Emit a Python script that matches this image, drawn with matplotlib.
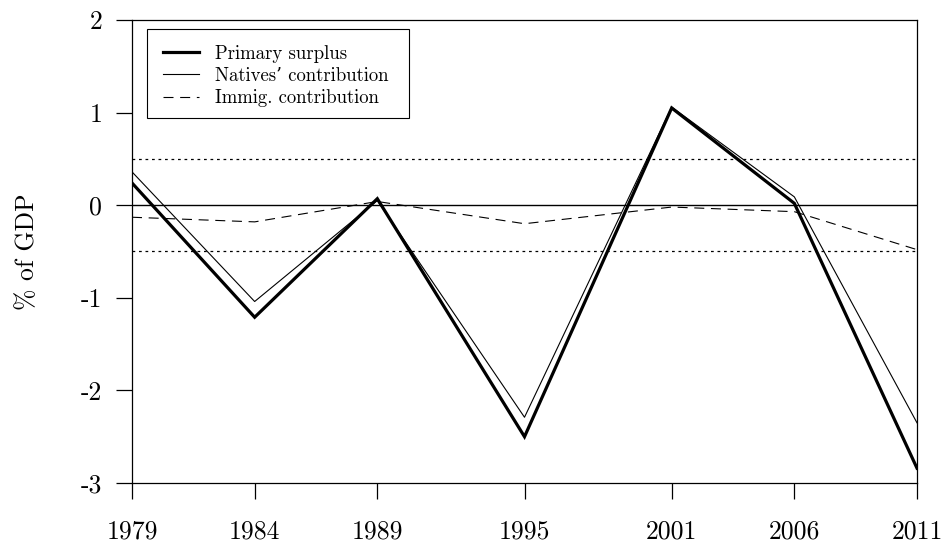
import matplotlib
matplotlib.use("Agg")
import matplotlib.pyplot as plt
from matplotlib.patches import Rectangle

plt.rcParams["font.family"] = ["cmr10", "DejaVu Serif"]
plt.rcParams["axes.unicode_minus"] = False

YEARS = [1979, 1984, 1989, 1995, 2001, 2006, 2011]
PRIMARY_SURPLUS = [0.24, -1.21, 0.07, -2.50, 1.05, 0.02, -2.84]
NATIVES = [0.36, -1.04, 0.05, -2.29, 1.06, 0.09, -2.35]
IMMIGRANTS = [-0.13, -0.18, 0.04, -0.20, -0.02, -0.07, -0.48]
Y_TICKS = [-3, -2, -1, 0, 1, 2]
BANDS = [-0.5, 0.5]

W, H = 942, 543
fig = plt.figure(figsize=(W / 100, H / 100), dpi=100)
ax = fig.add_axes([132 / W, 1 - 483 / H, (917 - 132) / W, (483 - 20) / H])

ax.axhline(0, color="black", lw=1.0, zorder=1)
for b in BANDS:
    ax.axhline(b, color="black", lw=0.9, linestyle=(0, (2.2, 3.0)), zorder=1)

ax.plot(YEARS, PRIMARY_SURPLUS, color="black", lw=2.3, label="Primary surplus",
        solid_joinstyle="miter", zorder=3)
ax.plot(YEARS, NATIVES, color="black", lw=0.8, label="Natives\u2019 contribution", zorder=3)
ax.plot(YEARS, IMMIGRANTS, color="black", lw=0.8, linestyle=(0, (9, 6)),
        label="Immig. contribution", zorder=3)

ax.set_xlim(YEARS[0], YEARS[-1])
ax.set_ylim(Y_TICKS[0], Y_TICKS[-1])
ax.set_xticks(YEARS)
ax.set_xticklabels([str(y) for y in YEARS])
ax.set_yticks(Y_TICKS)
ax.set_yticklabels([str(t) for t in Y_TICKS])
ax.tick_params(direction="out", length=11.5, width=0.9, labelsize=18.5)
ax.tick_params(axis="x", pad=15)
ax.tick_params(axis="y", pad=10)
for s in ax.spines.values():
    s.set_linewidth(0.9)

ax.set_ylabel("% of GDP", fontsize=18.5, labelpad=30)

# legend entries without their own frame; the box is drawn separately
leg = ax.legend(loc="upper left", bbox_to_anchor=(163 / W, 1 - 45 / H),
                bbox_transform=fig.transFigure, borderaxespad=0, borderpad=0,
                fontsize=13.5, frameon=False, handlelength=1.9,
                handletextpad=0.85, labelspacing=0.22)
fig.patches.append(Rectangle((147 / W, 1 - 118 / H), (409 - 147) / W, (118 - 29) / H,
                             transform=fig.transFigure, fill=False,
                             edgecolor="black", lw=0.8, zorder=5))

fig.savefig("out.png", dpi=100)
